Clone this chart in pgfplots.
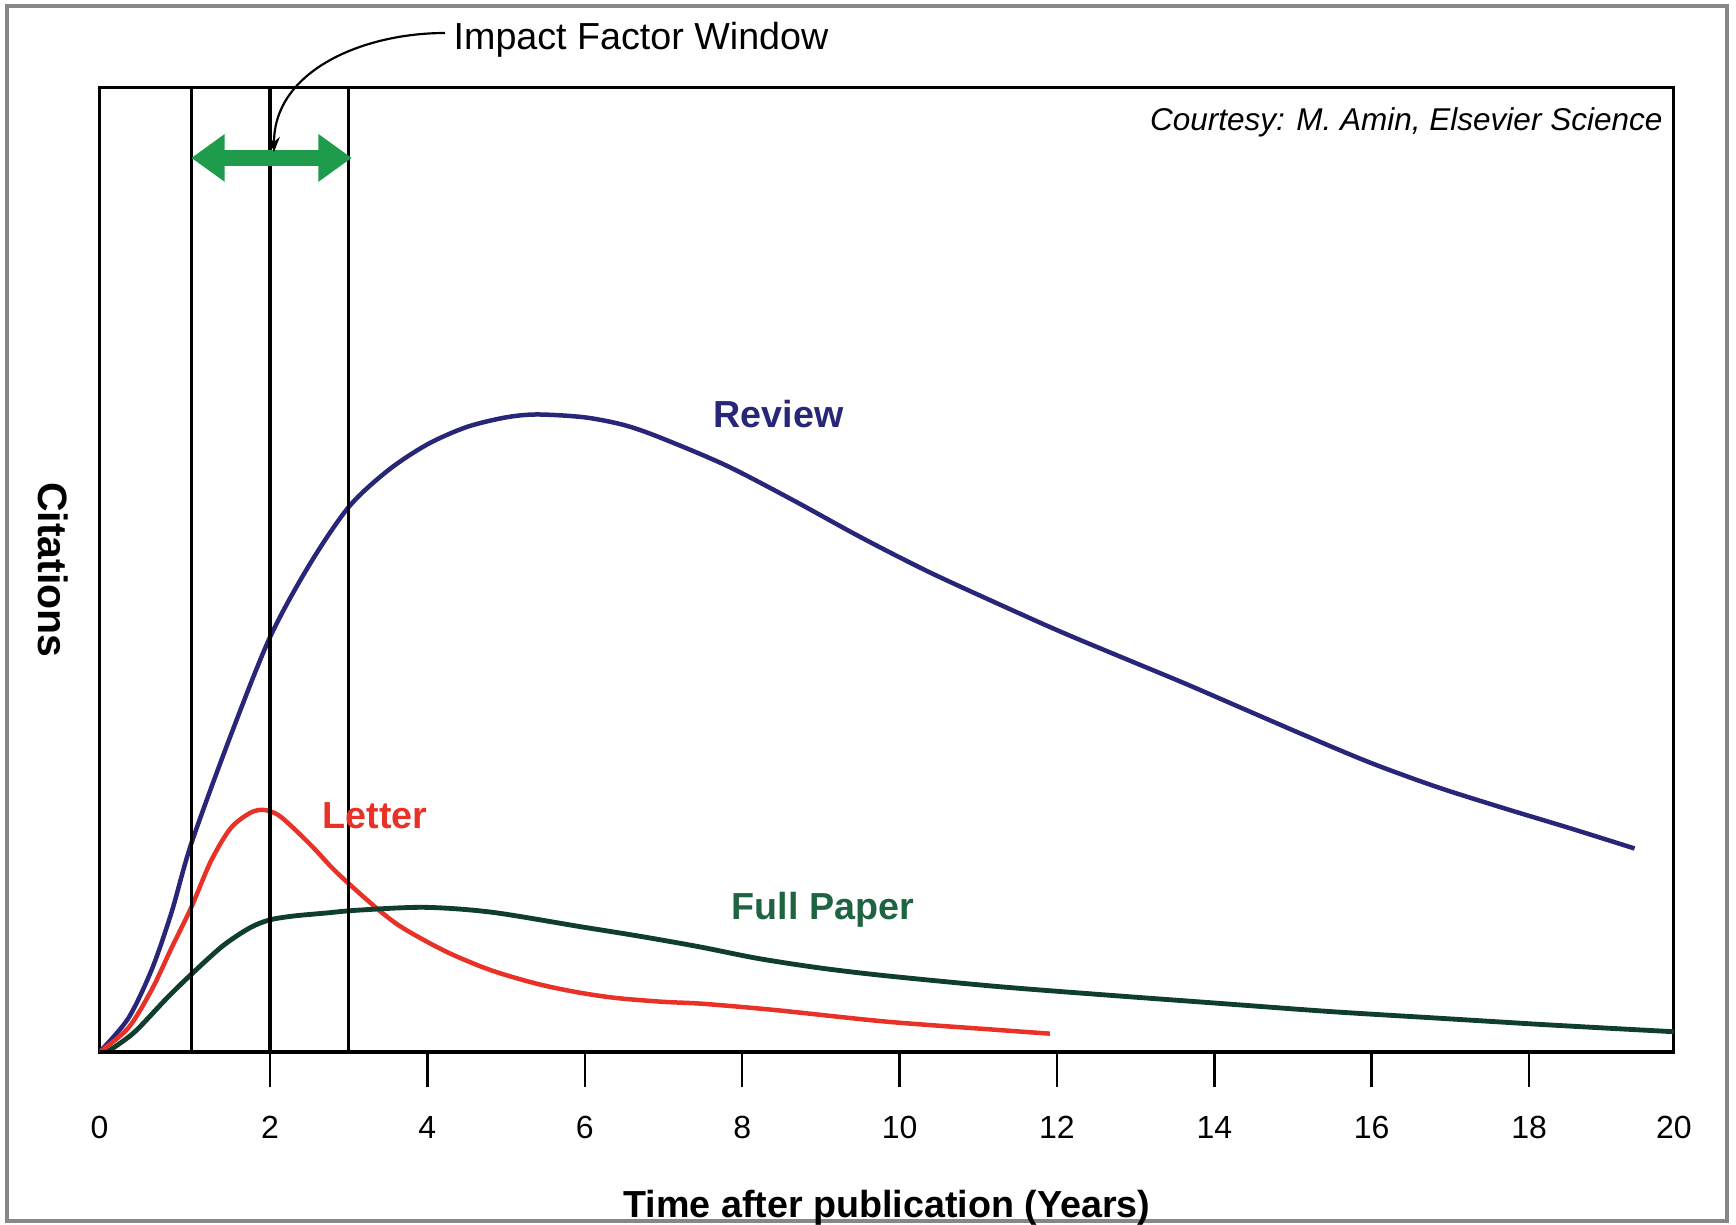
\documentclass[border=0pt]{standalone}
\usepackage{fontspec}
\setmainfont{Liberation Sans}
\usepackage{pgfplots}
\pgfplotsset{compat=1.18}
\usetikzlibrary{arrows.meta}

\definecolor{reviewblue}{RGB}{40,38,120}
\definecolor{letterred}{RGB}{232,50,40}
\definecolor{paperline}{RGB}{16,62,46}
\definecolor{papertext}{RGB}{30,100,65}
\definecolor{arrowgreen}{RGB}{30,155,75}
\definecolor{framegray}{RGB}{135,135,135}

\begin{document}
\begin{tikzpicture}
% page in pixel units of the reference (1 px = 0.3pt), origin = axis corner
\begin{scope}[x=0.3pt,y=-0.3pt,shift={(-29.88pt,315.6pt)}]
  \useasboundingbox (0,0) rectangle (1736,1222);
\end{scope}

\begin{axis}[
    at={(0,0)}, anchor=south west,
    scale only axis, width=472.3pt, height=289.35pt,
    xmin=-0.165, xmax=19.84, ymin=0, ymax=100,
    axis line style={line width=0.9pt},
    xtick={2,4,...,18},
    xticklabels={2,4,6,8,10,12,14,16,18},
    extra x ticks={-0.165,19.84},
    extra x tick labels={0,20},
    extra x tick style={major tick style={draw=none}},
    ytick=\empty,
    xtick pos=bottom, tick align=outside,
    major tick length=10.5pt,
    every tick/.style={black, line width=0.75pt},
    tick label style={font=\fontsize{9.6}{11}\selectfont},
    xticklabel style={yshift=-5.3pt},
    /pgf/number format/assume math mode=true,
]
% Review
\addplot[reviewblue, line width=1.35pt, smooth] table {
x y
-0.165 0
0.20 3.5
0.50 8.6
0.75 14.5
1.00 21.6
1.50 32.8
2.00 43.0
2.50 50.5
3.00 56.5
3.50 60.3
4.00 63.0
4.50 64.8
5.00 65.8
5.40 66.1
6.00 65.8
6.50 65.0
6.96 63.7
7.80 60.8
8.65 57.2
9.50 53.4
10.34 49.9
11.19 46.7
12.04 43.6
12.89 40.7
13.60 38.3
14.28 35.9
15.13 32.9
15.98 30.0
16.82 27.5
17.67 25.3
18.52 23.2
19.34 21.1
};
% Letter
\addplot[letterred, line width=1.35pt, smooth] table {
x y
-0.165 0
0.20 2.5
0.50 6.5
0.75 10.8
1.00 15.0
1.25 19.8
1.50 23.2
1.75 24.8
1.92 25.1
2.10 24.6
2.30 23.2
2.55 21.2
2.80 19.0
3.05 17.1
3.40 14.6
3.70 12.8
4.24 10.4
4.80 8.5
5.38 7.1
5.90 6.2
6.40 5.6
7.00 5.2
7.50 5.0
8.42 4.35
9.83 3.15
11.23 2.3
11.91 1.9
};
% Full Paper
\addplot[paperline, line width=1.45pt, smooth] table {
x y
-0.07 0
0.27 2.0
0.68 5.5
0.98 7.9
1.40 11.0
1.75 12.9
2.00 13.7
2.30 14.1
2.70 14.4
3.11 14.7
3.96 15.0
4.81 14.5
5.94 13.0
6.70 12.0
7.46 10.9
8.20 9.7
9.00 8.7
9.83 7.9
11.23 6.8
12.64 5.9
14.05 5.05
15.46 4.2
16.86 3.5
18.27 2.8
19.84 2.1
};
% impact factor window lines
\draw[line width=0.75pt] (axis cs:1,0) -- (axis cs:1,100);
\draw[line width=1.2pt] (axis cs:2,0) -- (axis cs:2,100);
\draw[line width=0.75pt] (axis cs:3,0) -- (axis cs:3,100);
\draw[line width=1.5pt] (rel axis cs:0,0) -- (rel axis cs:1,0);
\draw[arrowgreen, line width=4.6pt,
      {Triangle[width=13.6pt,length=10pt]}-{Triangle[width=13.6pt,length=10pt]}]
      (axis cs:1.0,92.7) -- (axis cs:3.04,92.7);
\node[anchor=base west, inner sep=0, text=reviewblue,
      font=\fontsize{11.3}{13}\selectfont\bfseries] at (axis cs:7.63,64.7) {Review};
\node[anchor=base west, inner sep=0, text=letterred,
      font=\fontsize{11.3}{13}\selectfont\bfseries] at (axis cs:2.66,23.2) {Letter};
\node[anchor=base west, inner sep=0, text=papertext,
      font=\fontsize{11.3}{13}\selectfont\bfseries] at (axis cs:7.86,13.7) {Full Paper};
\end{axis}

\begin{scope}[x=0.3pt,y=-0.3pt,shift={(-29.88pt,315.6pt)}]
  \draw[framegray, line width=1.2pt] (7,6) rectangle (1727,1221);
  \node[anchor=base west, inner sep=0, font=\fontsize{11.3}{13}\selectfont] at (453,50) {Impact Factor Window};
  \draw[line width=0.65pt, -{Stealth[length=4.5pt,width=3.5pt]}] (445,33) to[out=180,in=90] (274,152);
  \node[anchor=base east, inner sep=0, font=\fontsize{9.45}{11}\selectfont\itshape] at (1663,130) {Courtesy: M. Amin, Elsevier Science};
  \node[rotate=-90, inner sep=0, font=\fontsize{12.3}{14}\selectfont\bfseries] at (53,570) {Citations};
  \node[anchor=base, inner sep=0, font=\fontsize{11.3}{13}\selectfont\bfseries] at (887,1217) {Time after publication (Years)};
\end{scope}
\end{tikzpicture}
\end{document}
